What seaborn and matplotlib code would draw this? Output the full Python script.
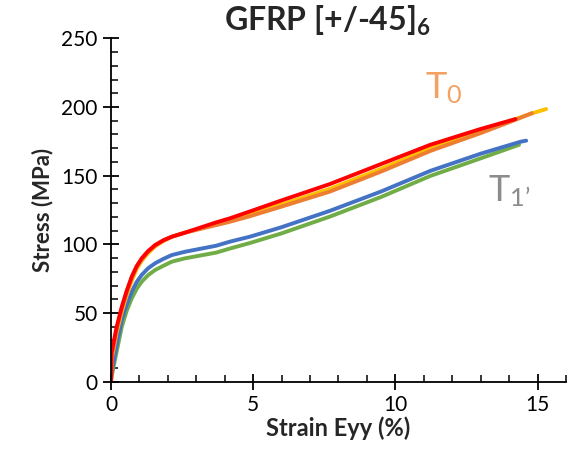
import numpy as np
import pandas as pd
import matplotlib
matplotlib.use("Agg")
import matplotlib.pyplot as plt
import seaborn as sns
from matplotlib.ticker import MultipleLocator

# ---- data ----
red_x = [0, 0.02, 0.2, 0.38, 0.55, 0.73, 0.9, 1.08, 1.3, 1.55, 1.85, 2.14, 2.6, 3.7, 4.19, 4.89, 6.0, 7.71, 9.5, 11.23, 13.0, 14.22]
red_y = [0, 21, 40, 54.6, 66, 76.5, 84, 89.8, 95, 99.5, 103, 105.6, 108.5, 116, 119, 124, 132, 144, 158.5, 172.5, 184, 191.2]

yel_x = [0, 0.02, 0.2, 0.38, 0.55, 0.73, 0.9, 1.08, 1.3, 1.55, 1.85, 2.14, 2.6, 3.7, 4.19, 4.89, 6.0, 7.71, 9.5, 11.23, 13.0, 14.2, 14.75, 15.3]
yel_y = [0, 16, 36, 51, 63, 73.5, 82, 88, 93.5, 98.5, 102.5, 105.5, 108.5, 115, 117.5, 122, 129, 140.5, 155, 170, 182.5, 191, 195, 198.5]

org_x = [0, 0.02, 0.2, 0.38, 0.55, 0.73, 0.9, 1.08, 1.3, 1.55, 1.85, 2.14, 2.6, 3.7, 4.19, 4.89, 6.0, 7.71, 9.5, 11.23, 13.0, 14.2, 14.8]
org_y = [0, 18, 38, 53, 65, 75.5, 83.5, 89, 94.5, 99, 103, 105.5, 108.5, 114, 116.5, 120.5, 127.5, 138.5, 153, 168, 181, 190.5, 195.5]

blu_x = [0, 0.02, 0.2, 0.38, 0.55, 0.73, 0.9, 1.08, 1.3, 1.55, 1.85, 2.14, 2.6, 3.7, 4.19, 4.89, 6.0, 7.71, 9.5, 11.23, 13.0, 14.4, 14.6]
blu_y = [0, 6, 27, 45, 56, 65.5, 72.5, 77.7, 82.5, 86.2, 89.5, 92.2, 94.6, 99, 102, 105.6, 112.5, 124.5, 138.5, 153.5, 166, 174.7, 175.5]

grn_x = [0, 0.02, 0.2, 0.38, 0.55, 0.73, 0.9, 1.08, 1.3, 1.55, 1.85, 2.14, 2.6, 3.7, 4.19, 4.89, 6.0, 7.71, 9.5, 11.23, 13.0, 14.35]
grn_y = [0, 3.6, 22, 40, 51.5, 60.7, 67.5, 72.8, 77.5, 81.3, 84.5, 87.4, 89.8, 94, 97, 101, 108, 120.3, 134.5, 149.8, 162.6, 172.5]

series_names = ["green", "blue", "yellow", "orange", "red"]
series_colors = ["#70AD47", "#4472C4", "#FFC000", "#ED7D31", "#FF0000"]
series_data = [(grn_x, grn_y), (blu_x, blu_y), (yel_x, yel_y), (org_x, org_y), (red_x, red_y)]

x_ticks = [0, 5, 10, 15]
y_ticks = [0, 50, 100, 150, 200, 250]

# ---- style ----
sns.set_style("white")
plt.rcParams["font.family"] = ["Lato", "DejaVu Sans"]
plt.rcParams["mathtext.fontset"] = "custom"
plt.rcParams["mathtext.rm"] = "Lato"
plt.rcParams["mathtext.bf"] = "Lato:bold"
plt.rcParams["mathtext.default"] = "regular"

frames = []
for name, (xs, ys) in zip(series_names, series_data):
    frames.append(pd.DataFrame({"strain": xs, "stress": ys, "series": name}))
df = pd.concat(frames, ignore_index=True)

fig = plt.figure(figsize=(5.73, 4.55), dpi=100)
ax = fig.add_axes([0.1937, 0.1611, 0.7941, 0.7547])

sns.lineplot(data=df, x="strain", y="stress", hue="series", hue_order=series_names,
             palette=series_colors, sort=False, estimator=None, linewidth=2.8,
             legend=False, ax=ax)
for ln in ax.get_lines():
    ln.set_solid_capstyle("round")
    ln.set_solid_joinstyle("round")

ax.set_xlim(0, 16)
ax.set_ylim(0, 250)
ax.set_xticks(x_ticks)
ax.set_yticks(y_ticks)
ax.xaxis.set_minor_locator(MultipleLocator(1))
ax.yaxis.set_minor_locator(MultipleLocator(10))
ax.tick_params(which="major", direction="inout", length=11, width=1.3, labelsize=15, colors="black", pad=4)
ax.tick_params(which="minor", direction="in", length=5, width=1.3)
ax.tick_params(axis="x", which="both", bottom=True)
ax.tick_params(axis="y", which="both", left=True)
for s in ["top", "right"]:
    ax.spines[s].set_visible(False)
for s in ["left", "bottom"]:
    ax.spines[s].set_color("black")
    ax.spines[s].set_linewidth(1.3)

ax.set_xlabel("Strain Eyy (%)", fontsize=17, fontweight="bold", labelpad=1)
ax.set_ylabel("Stress (MPa)", fontsize=16, fontweight="bold", labelpad=6)
ax.set_title(r"GFRP [+/-45]$_\mathbf{6}$", fontsize=23, fontweight="bold", pad=2, x=0.476)

ax.text(11.05, 206, r"T$_0$", fontsize=26, color="#F4A060", ha="left", va="baseline")
ax.text(13.25, 131, r"T$_{1’}$", fontsize=26, color="#8C8C8C", ha="left", va="baseline")

fig.savefig("out.png", dpi=100)
